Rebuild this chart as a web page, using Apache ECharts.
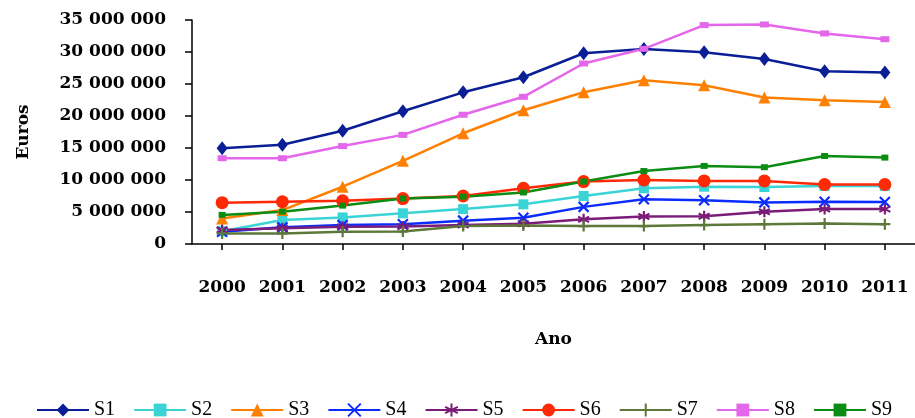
<!DOCTYPE html>
<html>
<head>
<meta charset="utf-8">
<script src="https://cdn.jsdelivr.net/npm/echarts@6/dist/echarts.min.js"></script>
<style>
  html, body { margin: 0; padding: 0; background: #fff; }
  #chart { width: 915px; height: 418px; }
</style>
</head>
<body>
<div id="chart"></div>
<script>
// Years on the category axis
const years = ['2000','2001','2002','2003','2004','2005','2006','2007','2008','2009','2010','2011'];

// Annual amounts in euros per series
const s1 = [14950000, 15500000, 17700000, 20750000, 23700000, 26050000, 29800000, 30450000, 29950000, 28900000, 27000000, 26800000];
const s2 = [2000000, 3750000, 4150000, 4800000, 5450000, 6200000, 7500000, 8700000, 8950000, 8900000, 9050000, 9050000];
const s3 = [4000000, 5300000, 8950000, 13000000, 17300000, 20900000, 23700000, 25600000, 24800000, 22900000, 22450000, 22200000];
const s4 = [1900000, 2600000, 2950000, 3100000, 3650000, 4100000, 5800000, 7000000, 6850000, 6500000, 6600000, 6550000];
const s5 = [2200000, 2450000, 2700000, 2750000, 2950000, 3150000, 3850000, 4300000, 4350000, 5050000, 5450000, 5450000];
const s6 = [6450000, 6600000, 6750000, 7100000, 7500000, 8700000, 9750000, 10000000, 9850000, 9850000, 9300000, 9300000];
const s7 = [1650000, 1650000, 1900000, 1950000, 2800000, 2900000, 2800000, 2800000, 2950000, 3100000, 3200000, 3100000];
const s8 = [13400000, 13400000, 15300000, 17050000, 20200000, 23000000, 28200000, 30500000, 34200000, 34300000, 32900000, 32000000];
const s9 = [4550000, 5050000, 6000000, 7100000, 7400000, 8050000, 9750000, 11400000, 12200000, 12000000, 13750000, 13500000];

// Y axis tick values
const yMin = 0, yMax = 35000000, yStep = 5000000;

const serifBold = { fontFamily: 'DejaVu Serif', fontWeight: 'bold', fontSize: 17, color: '#000' };

function groupThousands(v) {
  return String(Math.round(v)).replace(/\B(?=(\d{3})+(?!\d))/g, ' ');
}

const X_PATH = 'path://M0,0L10,10M10,0L0,10';
const STAR_PATH = 'path://M5,0L5,10M0.8,2.5L9.2,7.5M9.2,2.5L0.8,7.5';
const PLUS_PATH = 'path://M5,0L5,10M0,5L10,5';

function line(name, data, color, symbol, size, stroked) {
  return {
    name: name,
    type: 'line',
    data: data,
    symbol: symbol,
    symbolSize: size,
    showSymbol: true,
    lineStyle: { color: color, width: 2.5 },
    itemStyle: stroked
      ? { color: color, borderColor: color, borderWidth: 2.2 }
      : { color: color, borderWidth: 0 },
    emphasis: { disabled: true },
    animation: false
  };
}

const chart = echarts.init(document.getElementById('chart'), null, { renderer: 'canvas' });
chart.setOption({
  backgroundColor: '#fff',
  animation: false,
  grid: { left: 192, right: -9, top: 20, bottom: 174, containLabel: false },
  legend: {
    left: 31,
    top: 395,
    itemWidth: 52,
    itemHeight: 16,
    itemGap: 18,
    textStyle: { fontFamily: 'Liberation Serif', fontSize: 20, color: '#000' },
    data: ['S1','S2','S3','S4','S5','S6','S7','S8','S9']
  },
  xAxis: {
    type: 'category',
    data: years,
    boundaryGap: true,
    name: 'Ano',
    nameLocation: 'middle',
    nameGap: 87,
    nameTextStyle: serifBold,
    axisLine: { show: true, lineStyle: { color: '#000', width: 1.5 } },
    axisTick: { show: true, alignWithLabel: true, length: 6, lineStyle: { color: '#000', width: 1.5 } },
    axisLabel: Object.assign({ margin: 35, interval: 0 }, serifBold),
    splitLine: { show: false }
  },
  yAxis: {
    type: 'value',
    min: yMin,
    max: yMax,
    interval: yStep,
    name: 'Euros',
    nameLocation: 'middle',
    nameGap: 160,
    nameRotate: 90,
    nameTextStyle: serifBold,
    axisLine: { show: true, lineStyle: { color: '#000', width: 1.5 } },
    axisTick: { show: true, length: 7, lineStyle: { color: '#000', width: 1.5 } },
    axisLabel: Object.assign({ margin: 26, formatter: groupThousands }, serifBold),
    splitLine: { show: false }
  },
  series: [
    line('S1', s1, '#0a1f96', 'diamond', [11, 14], false),
    line('S2', s2, '#3ad4d6', 'rect', 10, false),
    line('S3', s3, '#ff8000', 'triangle', 12, false),
    line('S4', s4, '#0a2cff', X_PATH, 10, true),
    line('S5', s5, '#7a1c78', STAR_PATH, 11, true),
    line('S6', s6, '#ff2a05', 'circle', 13, false),
    line('S7', s7, '#5d7838', PLUS_PATH, 11, true),
    line('S8', s8, '#e466ea', 'rect', [9, 6], false),
    line('S9', s9, '#0b8c12', 'rect', [7, 6], false)
  ]
});
</script>
</body>
</html>
